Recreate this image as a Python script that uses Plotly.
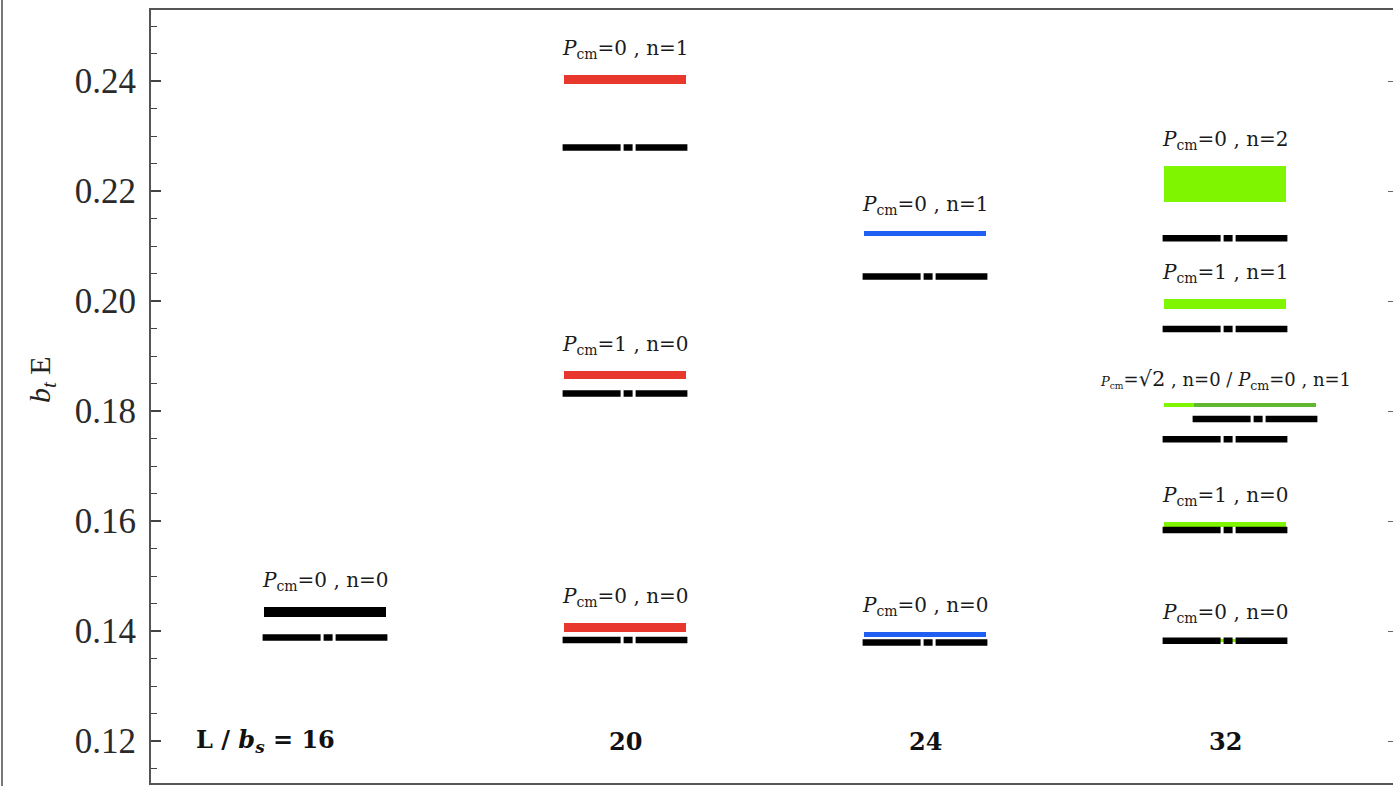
import plotly.graph_objects as go

# ---------------- data ----------------
L_values = [16, 20, 24, 32]
L_names = ["16", "20", "24", "32"]

# coloured / solid levels (bands): lattice size, lower edge, upper edge, colour name, label
band_L = [16, 20, 20, 20, 24, 24, 32, 32, 32, 32, 32, 32]
band_lo = [0.14249, 0.23945, 0.18582, 0.13976, 0.21173, 0.13896,
           0.21805, 0.19849, 0.18067, 0.18067, 0.15891, 0.13800]
band_hi = [0.14442, 0.24109, 0.18727, 0.14140, 0.21264, 0.13987,
           0.22460, 0.20036, 0.18151, 0.18151, 0.15991, 0.13860]
band_kind = ["black", "red", "red", "red", "blue", "blue",
             "green", "green", "green", "dkgreen", "green", "green"]
band_shift = [0, 0, 0, 0, 0, 0, 0, 0, 0, 1, 0, 0]   # 1 = shifted group (P_cm=0, n=1 at L=32)
band_label = [
    "<i>P</i><sub>cm</sub>=0 , n=0",
    "<i>P</i><sub>cm</sub>=0 , n=1",
    "<i>P</i><sub>cm</sub>=1 , n=0",
    "<i>P</i><sub>cm</sub>=0 , n=0",
    "<i>P</i><sub>cm</sub>=0 , n=1",
    "<i>P</i><sub>cm</sub>=0 , n=0",
    "<i>P</i><sub>cm</sub>=0 , n=2",
    "<i>P</i><sub>cm</sub>=1 , n=1",
    "<span style='font-size:13px'><i>P</i><sub>cm</sub></span>=<span style='font-size:21px'>√2</span> , n=0 / <i>P</i><sub>cm</sub>=0 , n=1",
    "",
    "<i>P</i><sub>cm</sub>=1 , n=0",
    "<i>P</i><sub>cm</sub>=0 , n=0",
]

# black dashed levels
dash_L = [16, 20, 20, 20, 24, 24, 32, 32, 32, 32, 32, 32]
dash_E = [0.13882, 0.22791, 0.18318, 0.13836, 0.20445, 0.13791,
          0.21140, 0.19491, 0.17855, 0.17485, 0.15836, 0.13824]
dash_shift = [0, 0, 0, 0, 0, 0, 0, 0, 1, 0, 0, 0]

Y_TICKS = [0.12, 0.14, 0.16, 0.18, 0.20, 0.22, 0.24]

# ---------------- styling ----------------
COLORS = {"black": "#000000", "red": "#e8382e", "blue": "#1f5ff2",
          "green": "#7ff500", "dkgreen": "#62b82e"}
SERIF = "Liberation Serif"
WIDE_SERIF = "DejaVu Serif"
BAND_W = 0.405
LINE_HALF = 0.208
SHIFT = 0.10

xpos = {L: i for i, L in enumerate(L_values)}

fig = go.Figure()

draw_order = sorted(range(len(band_L)), key=lambda i: 1 if band_kind[i] == "dkgreen" else 0)
for i in draw_order:
    x = xpos[band_L[i]] + SHIFT * band_shift[i]
    fig.add_trace(go.Bar(
        x=[x], y=[band_hi[i] - band_lo[i]], base=[band_lo[i]], width=BAND_W,
        marker=dict(color=COLORS[band_kind[i]], line=dict(width=0)),
        showlegend=False, hoverinfo="skip"))

for L, E, s in zip(dash_L, dash_E, dash_shift):
    xc = xpos[L] + SHIFT * s
    fig.add_trace(go.Scatter(
        x=[xc - LINE_HALF, xc + LINE_HALF], y=[E, E], mode="lines",
        line=dict(color="black", width=6.5, dash="58px,3px,9px,3px,300px"),
        showlegend=False, hoverinfo="skip"))

# level labels
for i in range(len(band_L)):
    if not band_label[i]:
        continue
    small = "√2" in band_label[i]
    fig.add_annotation(
        x=xpos[band_L[i]], y=band_hi[i], text=band_label[i], showarrow=False,
        xanchor="center", yanchor="bottom", yshift=8 if small else 11,
        font=dict(family=WIDE_SERIF, size=18 if small else 20, color="#1a1a1a"))

# lattice size labels
for L, name in zip(L_values, L_names):
    txt = ("<b>L / <i>b</i><sub><i>s</i></sub> = %s</b>" % name) if L == L_values[0] else "<b>%s</b>" % name
    fig.add_annotation(
        x=xpos[L] - (0.2 if L == L_values[0] else 0), y=0.12, text=txt,
        showarrow=False, xanchor="center", yanchor="middle",
        font=dict(family=WIDE_SERIF, size=24, color="#111"))

# y-axis title
fig.add_annotation(
    xref="paper", yref="paper", x=(42 - 151) / 1242, y=(783 - 380) / 773,
    text="<i>b</i><sub><i>t</i></sub> E", textangle=-90, showarrow=False,
    xanchor="center", yanchor="middle",
    font=dict(family=SERIF, size=30, color="#222"))

# outer border line at image left edge
fig.add_shape(type="line", xref="paper", yref="paper",
              x0=(2 - 151) / 1242, x1=(2 - 151) / 1242, y0=-0.01, y1=1.02,
              line=dict(color="#777", width=2))

fig.update_layout(
    width=1393, height=786,
    margin=dict(l=151, r=0, t=10, b=3),
    paper_bgcolor="white", plot_bgcolor="white",
    barmode="overlay", bargap=0, hovermode=False,
    xaxis=dict(range=[-0.58, 3.56], showgrid=False, zeroline=False,
               showticklabels=False, ticks="", showline=True, mirror=True,
               linecolor="#555", linewidth=2),
    yaxis=dict(range=[0.112364, 0.252909], tickmode="array", tickvals=Y_TICKS,
               ticktext=["%.2f" % v for v in Y_TICKS],
               showgrid=False, zeroline=False, showline=True, linecolor="#555",
               linewidth=2, ticks="inside", ticklen=10, tickwidth=1.5,
               tickcolor="#444", ticklabelstandoff=6,
               tickfont=dict(family=SERIF, size=35, color="#2a2a2a"),
               minor=dict(tick0=0.12, dtick=0.005, ticks="inside", ticklen=6,
                          tickwidth=1.2, tickcolor="#444", showgrid=False)),
    yaxis2=dict(range=[0.112364, 0.252909], overlaying="y", side="right",
                tickmode="array", tickvals=Y_TICKS, showticklabels=False,
                ticks="inside", ticklen=5, tickwidth=1.2, tickcolor="#666",
                showgrid=False, zeroline=False, showline=False),
)
# dummy trace to activate yaxis2
fig.add_trace(go.Scatter(x=[None], y=[None], yaxis="y2", showlegend=False, hoverinfo="skip"))

fig.write_html("out.html", config={"displayModeBar": False},
               post_script="document.body.style.margin='0px';document.body.style.overflow='hidden';")
